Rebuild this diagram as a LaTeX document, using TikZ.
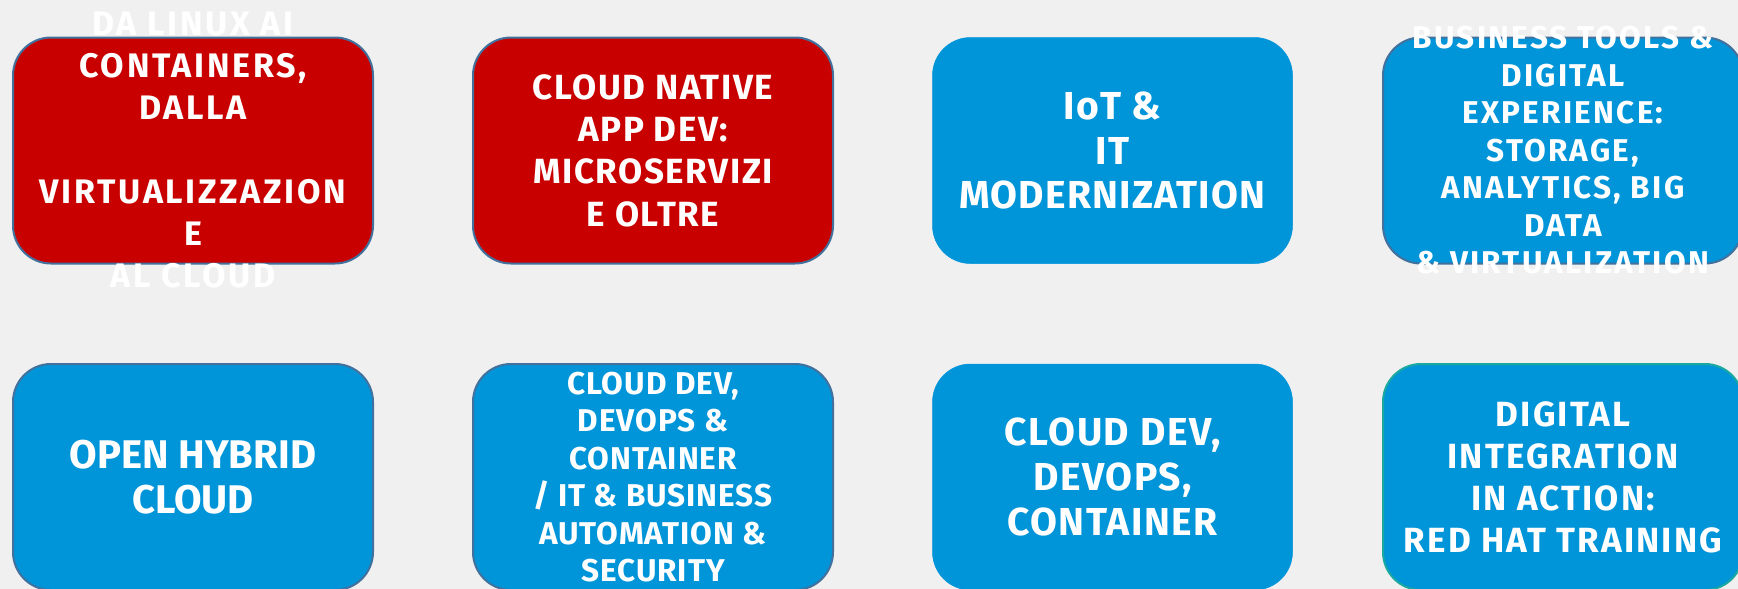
\documentclass[tikz,border=0pt]{standalone}
\usepackage{fontspec}
\setmainfont{Fira Sans}
\definecolor{bg}{HTML}{F0F0F0}
\definecolor{rhred}{HTML}{C80000}
\definecolor{rhblue}{HTML}{0094D9}
\definecolor{edgeblue}{HTML}{41719C}
\definecolor{edgeteal}{HTML}{1BA8A0}
\newcommand{\ls}[1]{\addfontfeatures{LetterSpace=#1}}
\begin{document}
\begin{tikzpicture}[x=1pt,y=-1pt,
  box/.style={rectangle, rounded corners=38pt, minimum width=360pt, minimum height=226pt, inner sep=0pt, line width=2pt, draw=edgeblue},
  redbox/.style={box, fill=rhred},
  bluebox/.style={box, fill=rhblue},
  plainbox/.style={box, fill=rhblue, draw=rhblue, line width=0.5pt},
  txt/.style={text=white, align=center, inner sep=0pt}]
\useasboundingbox (0,0) rectangle (1738,589);
\fill[bg] (0,0) rectangle (1738,589);
% row 1
\node[redbox] (b1) at (193,150.5) {};
\node[redbox] (b2) at (653,150.5) {};
\node[plainbox] (b3) at (1112.5,150.5) {};
\node[bluebox] (b4) at (1563,150.5) {};
% row 2
\node[bluebox] (b5) at (193,477) {};
\node[bluebox] (b6) at (653,477) {};
\node[plainbox] (b7) at (1112.5,477) {};
\node[bluebox, draw=edgeteal] (b8) at (1563,477) {};
% texts
\node[txt, font=\bfseries\fontsize{34}{42}\selectfont\ls{8}] (t1) at (b1.center) {DA LINUX AI\\CONTAINERS,\\DALLA\\[42pt]VIRTUALIZZAZION\\E\\AL CLOUD};
\node[txt, font=\bfseries\fontsize{35}{42.3}\selectfont\ls{4.5}] (t2) at (b2.center) {CLOUD NATIVE\\APP DEV:\\MICROSERVIZI\\E OLTRE};
\node[txt, font=\bfseries\fontsize{39}{44.5}\selectfont\ls{3}] (t3) at (b3.center) {IoT \&\\IT\\MODERNIZATION};
\node[txt, font=\bfseries\fontsize{31.5}{37.5}\selectfont\ls{7}] (t4) at (b4.center) {BUSINESS TOOLS \&\\DIGITAL\\EXPERIENCE:\\STORAGE,\\ANALYTICS, BIG\\DATA\\\& VIRTUALIZATION};
\node[txt, font=\bfseries\fontsize{40}{45}\selectfont] (t5) at (b5.center) {OPEN HYBRID\\CLOUD};
\node[txt, font=\bfseries\fontsize{31.5}{37.5}\selectfont\ls{3}] (t6) at (b6.center) {CLOUD DEV,\\DEVOPS \&\\CONTAINER\\/ IT \& BUSINESS\\AUTOMATION \&\\SECURITY};
\node[txt, font=\bfseries\fontsize{39}{45}\selectfont\ls{4}] (t7) at (b7.center) {CLOUD DEV,\\DEVOPS,\\CONTAINER};
\node[txt, font=\bfseries\fontsize{35}{42}\selectfont\ls{6}] (t8) at (b8.center) {DIGITAL\\INTEGRATION\\IN ACTION:\\RED HAT TRAINING};
\end{tikzpicture}
\end{document}
